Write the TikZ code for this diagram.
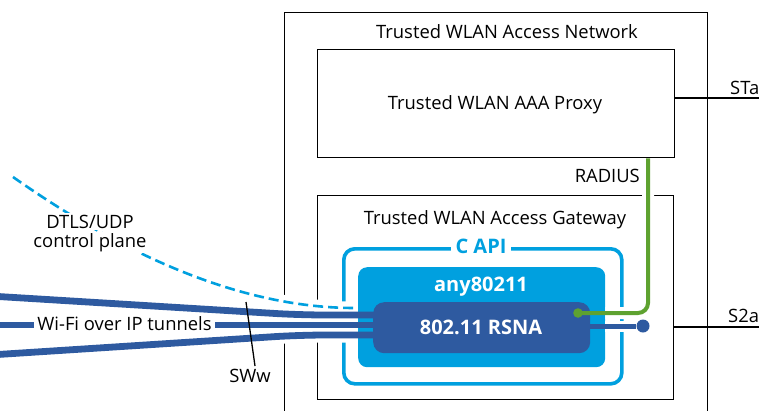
\documentclass[tikz,border=0pt]{standalone}
\usepackage{fontspec}
\setmainfont{Open Sans}
\definecolor{dkblue}{RGB}{46,90,160}
\definecolor{ltblue}{RGB}{0,160,223}
\definecolor{grn}{RGB}{94,162,48}
\begin{document}
\begin{tikzpicture}[x=1pt,y=-1pt,
  frame/.style={draw=black, line width=1.3pt, anchor=north west, inner sep=0pt},
  lbl/.style={font=\fontsize{18.4}{21}\selectfont, inner sep=1pt, anchor=base},
  blbl/.style={font=\fontsize{20}{22}\selectfont\bfseries, inner sep=1pt, anchor=base},
  wire/.style={draw=black, line width=1.3pt},
  tunnel/.style={draw=dkblue, line width=6.8pt, rounded corners=25pt},
  tunnelhalo/.style={draw=white, line width=15pt, rounded corners=25pt},
  ctrl/.style={draw=ltblue, line width=2.6pt, dash pattern=on 10pt off 5pt},
  ctrlhalo/.style={draw=white, line width=13pt},
  halo/.style={draw=white, line width=12pt}]
\useasboundingbox (0,0) rectangle (759,410);
\clip (0,0) rectangle (759,410);
% boxes
\node[frame, minimum width=423pt, minimum height=430pt] (twan) at (284,12) {};
\node[lbl] (twanlbl) at (507,38) {Trusted WLAN Access Network};
\node[frame, minimum width=357pt, minimum height=108pt] (proxy) at (317,49) {};
\node[lbl] (proxylbl) at (495,109) {Trusted WLAN AAA Proxy};
\node[frame, minimum width=356pt, minimum height=204pt] (gw) at (317,195) {};
\node[lbl] (gwlbl) at (495,224) {Trusted WLAN Access Gateway};
\node[draw=ltblue, line width=3.6pt, rounded corners=11pt, anchor=north west,
      minimum width=278pt, minimum height=135pt, inner sep=0pt] (capi) at (342,247) {};
% external interfaces
\coordinate (staend) at (759,98);
\draw[wire] (staend -| proxy.east) -- (staend);
\node[lbl, anchor=base west] (sta) at (729,94) {STa};
\coordinate (s2aend) at (759,327);
\draw[wire] (s2aend -| gw.east) -- (s2aend);
\node[lbl, anchor=base west] (s2a) at (727,322) {S2a};
% control plane and tunnels (halos)
\coordinate (c0) at (13,177);
\coordinate (c1) at (355,308);
\draw[ctrlhalo] (c0) .. controls (110,245) and (230,308) .. (c1);
\coordinate (t1a) at (-10,296);
\coordinate (t1b) at (300,315);
\coordinate (t2a) at (-10,325);
\coordinate (t3a) at (-10,355);
\coordinate (t3b) at (300,335);
\coordinate (t1c) at (380,315);
\coordinate (t2c) at (380,325);
\coordinate (t3c) at (380,335);
\draw[tunnelhalo] (t1a) -- (t1b) -- (t1c);
\draw[tunnelhalo] (t2a) -- (t2c);
\draw[tunnelhalo] (t3a) -- (t3b) -- (t3c);
\draw[ctrl] (c0) .. controls (110,245) and (230,308) .. (c1);
% any80211 block
\node[fill=ltblue, rounded corners=9pt, anchor=north west,
      minimum width=247pt, minimum height=100pt, inner sep=0pt] (any) at (358,267) {};
\draw[tunnel] (t1a) -- (t1b) -- (t1c);
\draw[tunnel] (t2a) -- (t2c);
\draw[tunnel] (t3a) -- (t3b) -- (t3c);
\node[fill=dkblue, rounded corners=11pt, anchor=north west,
      minimum width=217pt, minimum height=51pt, inner sep=0pt] (rsna) at (373,302) {};
\node[blbl, text=ltblue, fill=white, inner xsep=5pt] (capilbl) at (481,253) {C API};
\node[blbl, text=white] (anylbl) at (481,291) {any80211};
\node[blbl, text=white] (rsnalbl) at (481,334) {802.11 RSNA};
% RADIUS link
\coordinate (gdot) at (578,313);
\coordinate (gcorner) at (648,313);
\draw[halo, rounded corners=10pt] (gdot -| any.east) -- (gcorner) -- ([yshift=-8pt]gcorner |- proxy.south);
\draw[draw=grn, line width=4pt, rounded corners=10pt] (gdot) -- (gcorner) -- (gcorner |- proxy.south);
\fill[grn] (gdot) circle (4.8pt);
\node[lbl, anchor=base east] (radius) at (641,182) {RADIUS};
% S2a internal link
\node[circle, fill=dkblue, minimum size=13pt, inner sep=0pt] (bdot) at (643,326) {};
\draw[halo, line width=11pt] (bdot -| any.east) -- (bdot.west);
\draw[draw=dkblue, line width=5pt] (bdot -| rsna.east) -- (bdot);
% labels on the left
\node[lbl, fill=white, inner xsep=3pt, inner ysep=1.5pt] (dtls1) at (90,228) {DTLS/UDP};
\node[lbl, fill=white, inner xsep=3pt, inner ysep=1.5pt] (dtls2) at (90,247) {control plane};
\node[lbl, fill=white, inner xsep=3pt, inner ysep=1pt] (wifi) at (124.5,330) {Wi-Fi over IP tunnels};
\coordinate (swwtop) at (246,302);
\coordinate (swwbot) at (255,366);
\draw[line width=1.3pt] (swwtop) -- (swwbot);
\node[lbl] (sww) at (250,382) {SWw};
\end{tikzpicture}
\end{document}
